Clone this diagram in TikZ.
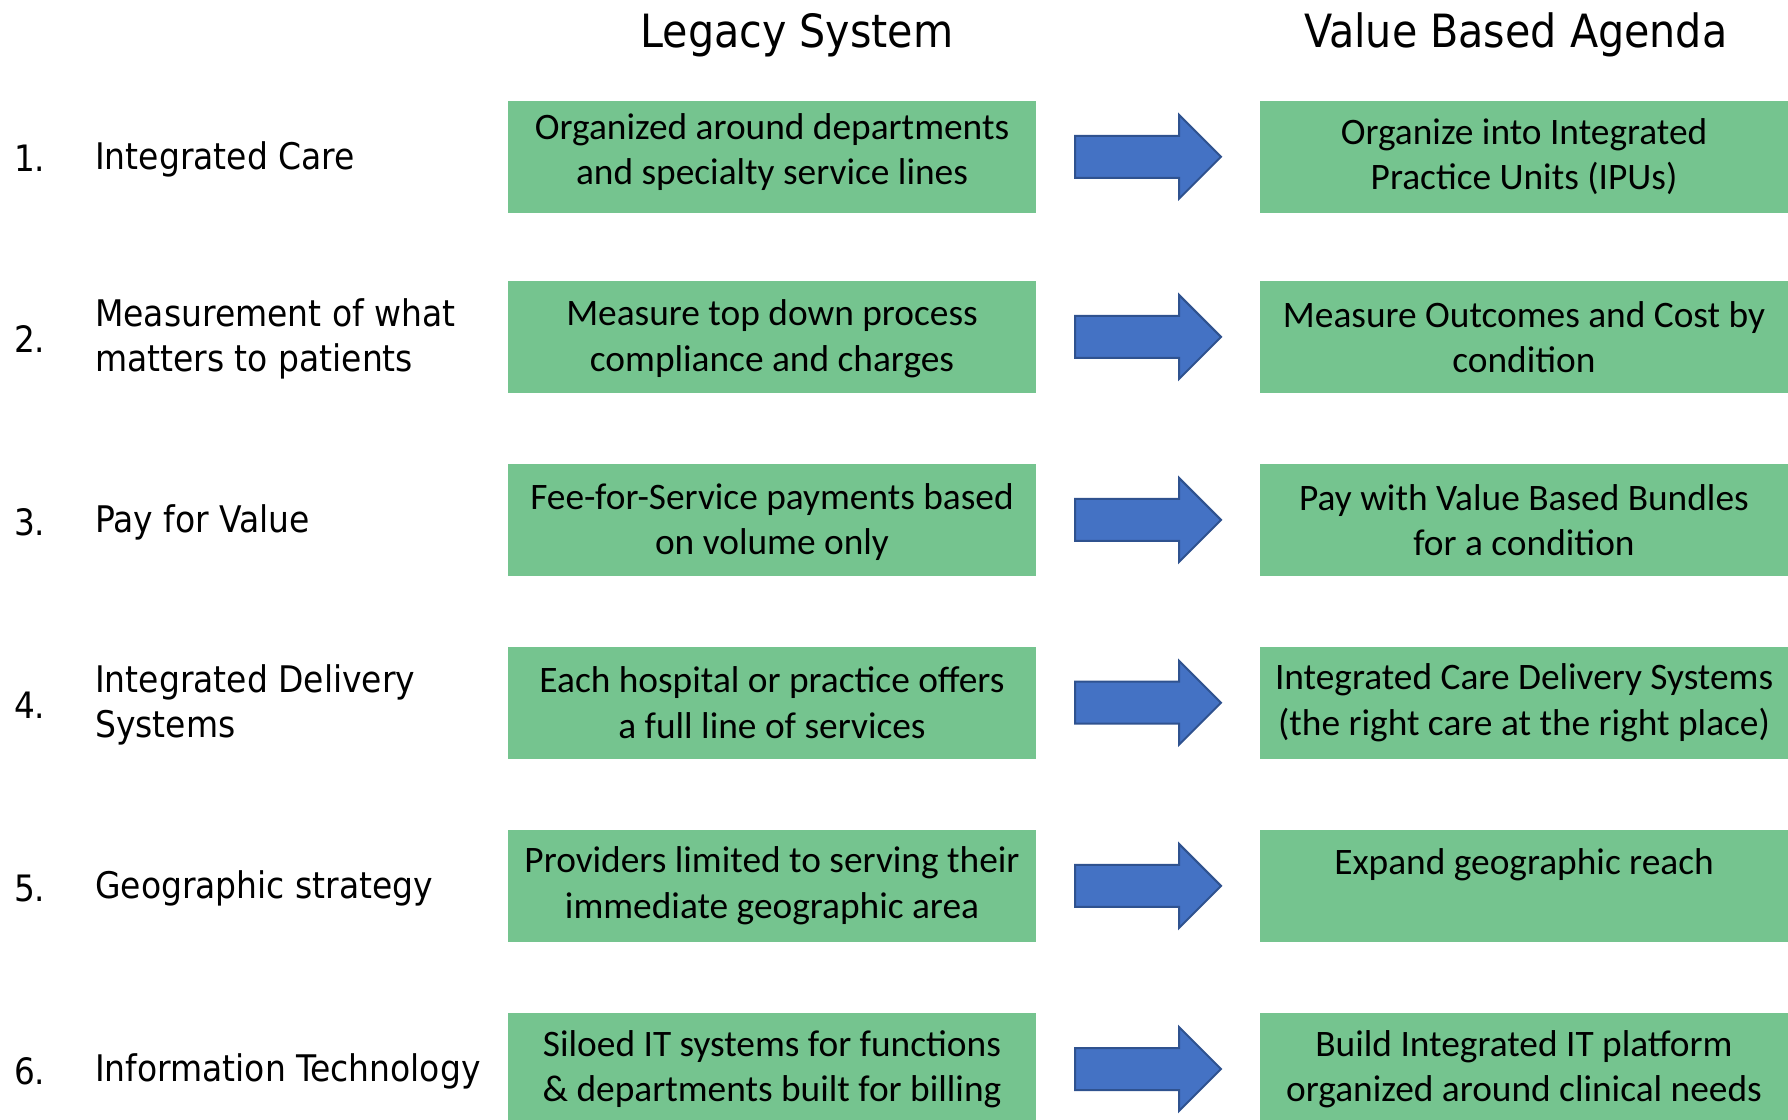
\documentclass[tikz,border=0pt]{standalone}
\usepackage{fontspec}
\setmainfont{Carlito}
\newfontfamily\labelfont{DejaVu Sans Condensed}
\definecolor{boxgreen}{RGB}{117,196,143}
\definecolor{arrowblue}{RGB}{68,114,196}
\definecolor{arrowedge}{RGB}{47,82,143}
\begin{document}
\begin{tikzpicture}[x=1bp,y=-1bp,
  greenbox/.style={fill=boxgreen, draw=none, minimum width=528bp, minimum height=111.7bp,
    inner sep=0pt, align=center, font=\fontsize{37.5}{45.6}\selectfont},
  boxtext/.style={inner sep=0pt, align=center, font=\fontsize{37.5}{45.6}\selectfont},
  rownum/.style={anchor=west, inner sep=0pt, font=\labelfont\fontsize{36.5}{45.5}\selectfont},
  rowlabel/.style={anchor=west, inner sep=0pt, align=left, font=\labelfont\fontsize{36.8}{45.5}\selectfont},
  heading/.style={anchor=base, inner sep=0pt, font=\labelfont\fontsize{46}{55}\selectfont},
  blockarrow/.style={fill=arrowblue, draw=arrowedge, line width=2bp, line join=miter}]
\useasboundingbox (0,0) rectangle (1788,1119);

% column headings
\node[heading] (hL) at (797,47) {Legacy System};
\node[heading] (hR) at (1516,47) {Value Based Agenda};

% block arrows between the two columns, one per row
\foreach \i/\cy in {1/156.8, 2/336.9, 3/519.9, 4/702.7, 5/885.9, 6/1069} {
  \coordinate (a\i) at (1075,\cy);
  \draw[blockarrow] (a\i) ++(0,-21) -- ++(104,0) -- ++(0,-21) -- ++(42,42)
     -- ++(-42,42) -- ++(0,-21) -- ++(-104,0) -- cycle;
}

% legacy side
\node[greenbox] (L1) at (772,156.8) {};
\node[boxtext] (L1t) at ([yshift=5bp]L1.center) {Organized around departments\\and specialty service lines};
\node[greenbox] (L2) at (772,336.9) {};
\node[boxtext] (L2t) at ([yshift=-2bp]L2.center) {Measure top down process\\compliance and charges};
\node[greenbox] (L3) at (772,519.9) {};
\node[boxtext] (L3t) at ([yshift=-2bp]L3.center) {Fee-for-Service payments based\\on volume only};
\node[greenbox] (L4) at (772,702.7) {Each hospital or practice offers\\a full line of services};
\node[greenbox] (L5) at (772,885.9) {Providers limited to serving their\\immediate geographic area};
\node[greenbox] (L6) at (772,1069) {Siloed IT systems for functions\\\& departments built for billing};

% value based side
\node[greenbox] (R1) at (1524,156.8) {Organize into Integrated\\Practice Units (IPUs)};
\node[greenbox] (R2) at (1524,336.9) {Measure Outcomes and Cost by\\condition};
\node[greenbox] (R3) at (1524,519.9) {Pay with Value Based Bundles\\for a condition};
\node[greenbox] (R4) at (1524,702.7) {Integrated Care Delivery Systems\\(the right care at the right place)};
\node[greenbox] (R5) at (1524,885.9) {Expand geographic reach\\[-10bp]\strut};
\node[greenbox] (R6) at (1524,1069) {Build Integrated IT platform\\organized around clinical needs};

% row numbers and labels
\node[rownum] (n1) at (14,158) {1.};
\node[rownum] (n2) at (14,339) {2.};
\node[rownum] (n3) at (14,522) {3.};
\node[rownum] (n4) at (14,705) {4.};
\node[rownum] (n5) at (14,888) {5.};
\node[rownum] (n6) at (14,1071) {6.};
\node[rowlabel] (t1) at (95,159) {Integrated Care};
\node[rowlabel] (t2) at (95,339) {Measurement of what\\matters to patients};
\node[rowlabel] (t3) at (95,522) {Pay for Value};
\node[rowlabel] (t4) at (95,705) {Integrated Delivery\\Systems};
\node[rowlabel] (t5) at (95,888) {Geographic strategy};
\node[rowlabel] (t6) at (95,1071) {Information Technology};
\end{tikzpicture}
\end{document}
